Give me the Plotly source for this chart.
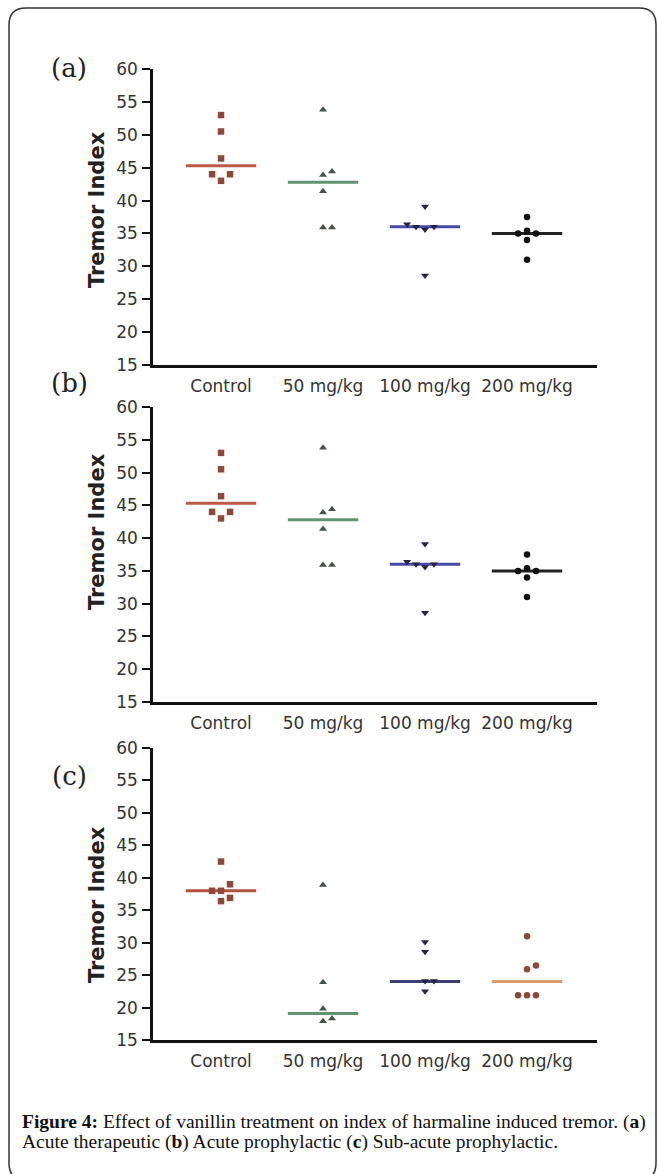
import plotly.graph_objects as go

W, H = 658, 1174

categories = ["Control", "50 mg/kg", "100 mg/kg", "200 mg/kg"]
y_ticks = [15, 20, 25, 30, 35, 40, 45, 50, 55, 60]
panel_labels = ["(a)", "(b)", "(c)"]

# (a) Acute therapeutic
a_control = [53.0, 50.5, 46.4, 44.0, 44.0, 43.0]
a_50 = [53.8, 44.4, 43.9, 41.4, 35.9, 35.9]
a_100 = [39.1, 36.4, 36.0, 36.0, 35.6, 28.6]
a_200 = [37.5, 35.4, 35.0, 35.0, 34.0, 31.0]
a_medians = [45.3, 42.8, 36.0, 35.0]

# (b) Acute prophylactic
b_control = [53.0, 50.5, 46.4, 44.0, 44.0, 43.0]
b_50 = [53.8, 44.4, 43.9, 41.4, 35.9, 35.9]
b_100 = [39.1, 36.4, 36.0, 36.0, 35.6, 28.6]
b_200 = [37.5, 35.4, 35.0, 35.0, 34.0, 31.0]
b_medians = [45.3, 42.8, 36.0, 35.0]

# (c) Sub-acute prophylactic
c_control = [42.5, 39.0, 38.0, 38.0, 36.9, 36.4]
c_50 = [38.9, 23.9, 19.8, 18.3, 17.9]
c_100 = [30.1, 28.6, 24.1, 24.1, 22.5]
c_200 = [31.0, 26.5, 25.9, 21.9, 21.9, 21.9]
c_medians = [38.0, 19.1, 24.0, 24.0]

caption_1 = "<b>Figure 4:</b> Effect of vanillin treatment on index of harmaline induced tremor. (<b>a</b>)"
caption_2 = "Acute therapeutic (<b>b</b>) Acute prophylactic (<b>c</b>) Sub-acute prophylactic."

panels = [
    [a_control, a_50, a_100, a_200],
    [b_control, b_50, b_100, b_200],
    [c_control, c_50, c_100, c_200],
]
medians = [a_medians, b_medians, c_medians]

symbols = ["square", "triangle-up", "triangle-down", "circle"]
marker_sizes = [6.5, 7, 7, 6.5]
marker_colors = [
    ["#8e4838", "#46524a", "#24243c", "#111111"],
    ["#8e4838", "#46524a", "#24243c", "#111111"],
    ["#8e4838", "#46524a", "#24243c", "#8a4a35"],
]
line_colors = [
    ["#bb5a45", "#5f9470", "#4848a8", "#222222"],
    ["#bb5a45", "#5f9470", "#4848a8", "#222222"],
    ["#b5503e", "#5f9470", "#3c3c78", "#dc9a74"],
]


def px(x):
    return x / W


def py(y):
    return 1 - y / H


# pixel geometry of the plot areas
x_dom = [px(153), px(597)]
y_doms = [[py(365), py(69)], [py(702), py(407)], [py(1040), py(748)]]
label_y = [68, 383, 776]
title_y = [210, 532, 905]


def swarm_slots(values, tol=1.2):
    order = sorted(range(len(values)), key=lambda i: values[i])
    placed = []
    slots = [0] * len(values)
    for i in order:
        for s in [0, 1, -1, -2, 2, 3, -3]:
            if all(not (ps == s and abs(pv - values[i]) < tol) for ps, pv in placed):
                slots[i] = s
                placed.append((s, values[i]))
                break
    return slots


fig = go.Figure()
slot_w = 0.088
half_line = 0.345

for p, groups in enumerate(panels):
    ax = "" if p == 0 else str(p + 1)
    for g, vals in enumerate(groups):
        m = medians[p][g]
        fig.add_trace(go.Scatter(
            x=[g - half_line, g + half_line], y=[m, m], mode="lines",
            line=dict(color=line_colors[p][g], width=3),
            xaxis="x" + ax, yaxis="y" + ax, showlegend=False, hoverinfo="skip"))
        slots = swarm_slots(vals)
        fig.add_trace(go.Scatter(
            x=[g + s * slot_w for s in slots], y=vals, mode="markers",
            marker=dict(symbol=symbols[g], size=marker_sizes[g],
                        color=marker_colors[p][g], line=dict(width=0)),
            xaxis="x" + ax, yaxis="y" + ax, showlegend=False))

axis_font = dict(family="DejaVu Sans", size=17, color="#333333")
layout = dict(
    width=W, height=H,
    margin=dict(l=0, r=0, t=0, b=0, pad=0, autoexpand=False),
    paper_bgcolor="white", plot_bgcolor="white",
)
for p in range(3):
    suf = "" if p == 0 else str(p + 1)
    layout["xaxis" + suf] = dict(
        domain=x_dom, range=[-0.667, 3.686], anchor="y" + suf,
        tickvals=[0, 1, 2, 3], ticktext=categories, ticks="",
        showline=True, linewidth=2.5, linecolor="#111111",
        showgrid=False, zeroline=False, tickfont=axis_font,
        ticklabelstandoff=4, fixedrange=True, automargin=False)
    layout["yaxis" + suf] = dict(
        domain=y_doms[p], range=[15, 60], anchor="x" + suf,
        tickvals=y_ticks, ticks="outside", ticklen=8, tickwidth=2,
        tickcolor="#111111", showline=True, linewidth=2.5, linecolor="#111111",
        showgrid=False, zeroline=False, tickfont=axis_font,
        ticklabelstandoff=1, fixedrange=True, automargin=False)

fig.update_layout(**layout)

annotations = []
for p in range(3):
    annotations.append(dict(
        text=panel_labels[p], x=px(69), y=py(label_y[p]), xref="paper", yref="paper",
        showarrow=False, xanchor="center", yanchor="middle",
        font=dict(family="DejaVu Serif", size=26, color="#222222")))
    annotations.append(dict(
        text="<b>Tremor Index</b>", x=px(97), y=py(title_y[p]), xref="paper", yref="paper",
        showarrow=False, xanchor="center", yanchor="middle", textangle=-90,
        font=dict(family="DejaVu Sans", size=21, color="#222222")))

annotations.append(dict(
    text=caption_1, x=px(20), y=py(1122), xref="paper", yref="paper",
    showarrow=False, xanchor="left", yanchor="middle",
    font=dict(family="Liberation Serif", size=19.5, color="#111111")))
annotations.append(dict(
    text=caption_2, x=px(20), y=py(1142), xref="paper", yref="paper",
    showarrow=False, xanchor="left", yanchor="middle",
    font=dict(family="Liberation Serif", size=19.5, color="#111111")))
fig.update_layout(annotations=annotations)

# rounded frame around the figure
r = 17
x0, x1, y0, y1 = 9, 656, 8, 1180
path = (f"M {px(x0)},{py(y0 + r)} Q {px(x0)},{py(y0)} {px(x0 + r)},{py(y0)} "
        f"L {px(x1 - r)},{py(y0)} Q {px(x1)},{py(y0)} {px(x1)},{py(y0 + r)} "
        f"L {px(x1)},{py(y1 - r)} Q {px(x1)},{py(y1)} {px(x1 - r)},{py(y1)} "
        f"L {px(x0 + r)},{py(y1)} Q {px(x0)},{py(y1)} {px(x0)},{py(y1 - r)} Z")
fig.add_shape(type="path", path=path, xref="paper", yref="paper",
              line=dict(color="#333333", width=1.5), layer="below")

fig.write_html("out.html", config={"displayModeBar": False},
               post_script="document.body.style.margin='0';document.body.style.overflow='hidden';")
